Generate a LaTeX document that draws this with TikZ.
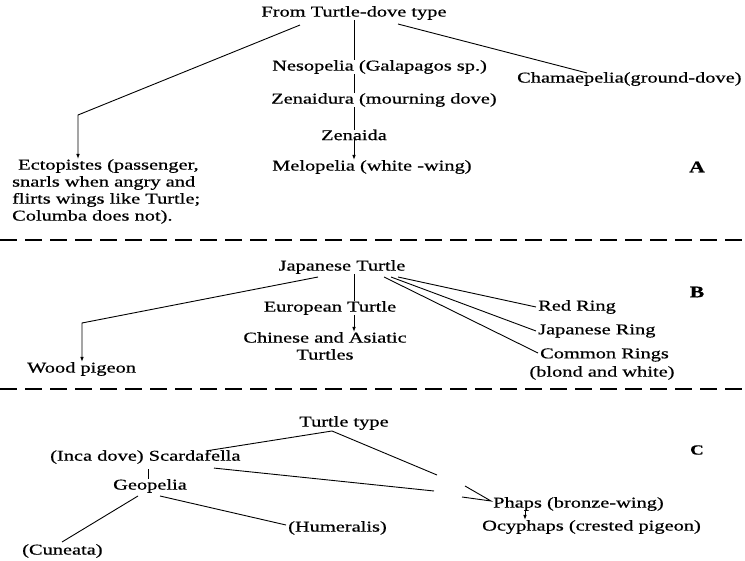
\documentclass[tikz,border=0pt]{standalone}
\usepackage{fontspec}
\setmainfont{Liberation Serif}[FakeStretch=1.36,FakeBold=0.6]
\usetikzlibrary{arrows.meta}
\begin{document}
\begin{tikzpicture}[x=1pt,y=-1pt,
  lbl/.style={inner sep=0pt, font=\fontsize{15}{17}\selectfont},
  sect/.style={inner sep=0pt, font=\fontsize{16}{16}\selectfont\bfseries},
  conn/.style={line width=0.9pt},
  arr/.style={conn,-{Latex[length=5pt,width=3.6pt]}},
  sepline/.style={line width=1.2pt, dash pattern=on 17pt off 8pt}]
\useasboundingbox (0,0) rectangle (745,561);
\fill[white] (0,0) rectangle (745,561);
\coordinate (cx) at (354,0);
% ---------- Section A ----------
\node[lbl] (from) at (354,13) {From Turtle-dove type};
\node[lbl,anchor=west] (neso) at (272,67) {Nesopelia (Galapagos sp.)};
\node[lbl,anchor=west] (zen) at (271,100) {Zenaidura (mourning dove)};
\node[lbl] (zenaida) at (354,135) {Zenaida};
\node[lbl,anchor=west] (mel) at (272,167) {Melopelia (white -wing)};
\node[lbl,anchor=west] (cham) at (517,79) {Chamaepelia(ground-dove)};
\node[lbl,anchor=north west,align=left] (ect) at (12,159) {\hspace*{6pt}Ectopistes (passenger,\\snarls when angry and\\flirts wings like Turtle;\\Columba does not).};
\node[sect] (la) at (697,167) {A};
\draw[conn] (from.south -| cx) -- (neso.north -| cx);
\draw[conn] (neso.south -| cx) -- (zen.north -| cx);
\draw[conn] (zen.south -| cx) -- (zenaida.north -| cx);
\draw[arr] (zenaida.south -| cx) -- (mel.north -| cx);
\coordinate (a2) at (78,115);
\draw[arr] ([xshift=-54pt,yshift=-5pt]from.south) -- (a2) -- (a2 |- ect.north);
\draw[conn] ([xshift=44pt,yshift=-4pt]from.south) -- ([xshift=70pt,yshift=-1pt]cham.north west);
% separator
\coordinate (s1l) at (0,240); \coordinate (s1r) at (745,240);
\draw[sepline] (s1l) -- (s1r);
% ---------- Section B ----------
\node[lbl] (japt) at (342,267) {Japanese Turtle};
\node[lbl] (eurt) at (330,308) {European Turtle};
\node[lbl,align=center,anchor=north] (chin) at (325,332) {Chinese and Asiatic\\Turtles};
\node[lbl,anchor=west] (wood) at (27,369) {Wood pigeon};
\node[lbl,anchor=west] (red) at (538,307) {Red Ring};
\node[lbl,anchor=west] (jring) at (538,331) {Japanese Ring};
\node[lbl,anchor=west] (common) at (540,355) {Common Rings};
\node[lbl] (blond) at (602,373) {(blond and white)};
\node[sect] (lb) at (697,292) {B};
\draw[conn] (japt.south -| cx) -- (eurt.north -| cx);
\draw[arr] (eurt.south -| cx) -- (chin.north -| cx);
\coordinate (b2) at (82,323);
\draw[arr] ([xshift=-24pt,yshift=-3pt]japt.south) -- (b2) -- (b2 |- wood.north);
\draw[conn] ([xshift=56pt,yshift=-3pt]japt.south) -- ([xshift=-2pt]red.west);
\draw[conn] ([xshift=49pt,yshift=-3pt]japt.south) -- ([xshift=-2pt]jring.west);
\draw[conn] ([xshift=42pt,yshift=-3pt]japt.south) -- ([xshift=-2pt,yshift=2pt]common.west);
% separator
\coordinate (s2l) at (0,389); \coordinate (s2r) at (745,389);
\draw[sepline] (s2l) -- (s2r);
% ---------- Section C ----------
\node[lbl] (tt) at (344,423) {Turtle type};
\node[lbl,anchor=west] (scard) at (50,457) {(Inca dove) Scardafella};
\node[lbl] (geo) at (150,486) {Geopelia};
\node[lbl,anchor=west] (hum) at (288,528) {(Humeralis)};
\node[lbl,anchor=west] (cun) at (22,551) {(Cuneata)};
\node[lbl,anchor=west] (phaps) at (493,504) {Phaps (bronze-wing)};
\node[lbl,anchor=west] (ocy) at (482,527) {Ocyphaps (crested pigeon)};
\node[sect,font=\fontsize{14}{14}\selectfont\bfseries] (lc) at (697,450) {C};
\coordinate (apex) at (332,431);
\coordinate (c1) at (437,475);
\coordinate (c2) at (434,491);
\coordinate (w1) at (465,486);
\coordinate (w2) at (462,497);
\draw[conn] ([xshift=156pt,yshift=-1pt]scard.north west) -- (apex) -- (c1);
\draw[conn] ([xshift=164pt,yshift=-4pt]scard.south west) -- (c2);
\draw[conn] (w1) -- ([xshift=-2pt,yshift=3pt]phaps.west) -- (w2);
\draw[arr] ([xshift=32pt]phaps.south west) -- ([xshift=43pt]ocy.north west);
\draw[conn] ([xshift=98pt,yshift=-5pt]scard.south west) -- (geo.north -| {(148,0)});
\draw[conn] ([xshift=-12pt,yshift=-3pt]geo.south) -- ([xshift=40pt,yshift=2pt]cun.north west);
\draw[conn] ([xshift=10pt,yshift=-3pt]geo.south) -- ([xshift=-2pt,yshift=3pt]hum.west);
\end{tikzpicture}
\end{document}
